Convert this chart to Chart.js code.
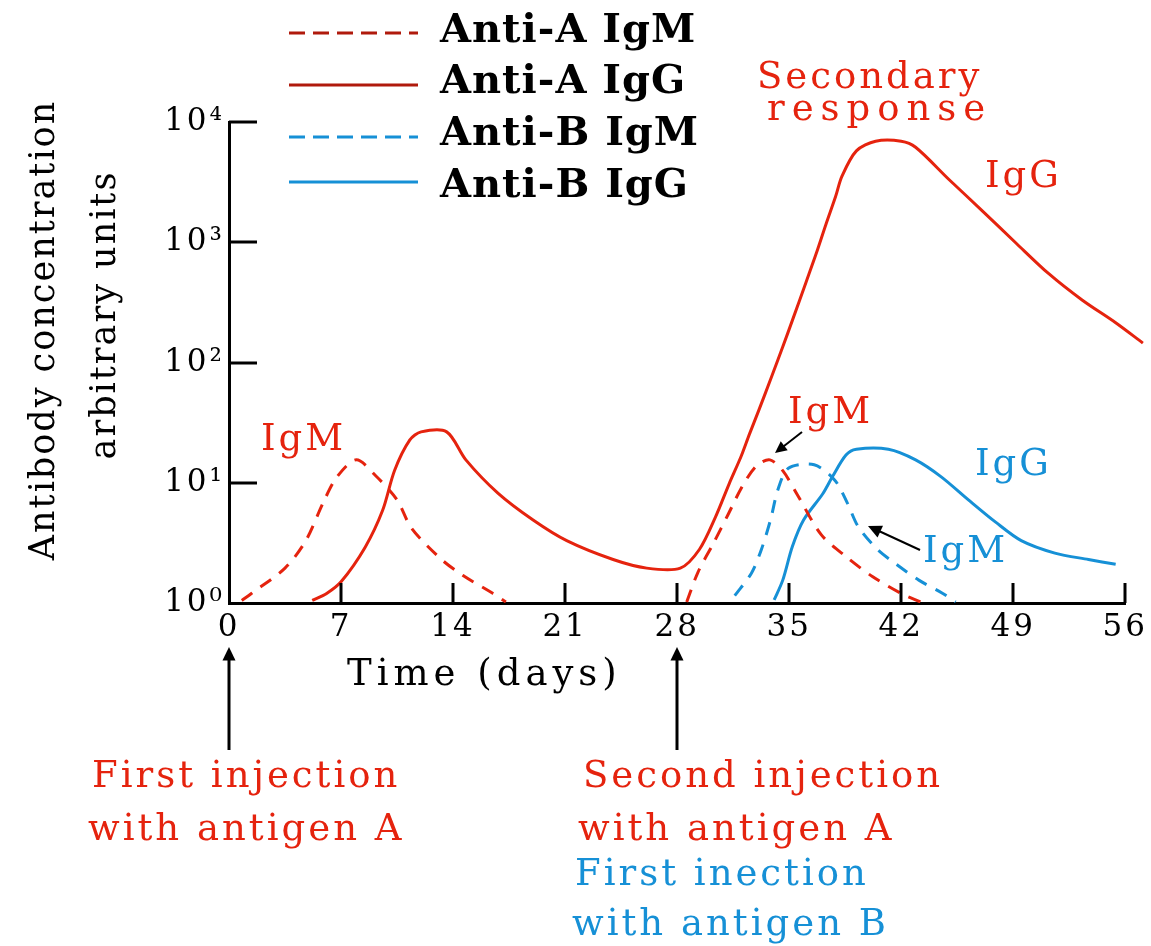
<!DOCTYPE html>
<html>
<head>
<meta charset="utf-8">
<script src="https://cdn.jsdelivr.net/npm/chart.js@4/dist/chart.umd.min.js"></script>
<style>
  html, body { margin: 0; padding: 0; background: #fff; }
  #wrap { width: 1151px; height: 946px; position: relative; }
</style>
</head>
<body>
<div id="wrap"><canvas id="chart"></canvas></div>
<script>
// ------------------------------------------------------------
// DATA
// ------------------------------------------------------------
const xTickValues = [0, 7, 14, 21, 28, 35, 42, 49, 56];
const yTickValues = [1, 10, 100, 1000, 10000];
const yTickLabels = ["10⁰", "10¹", "10²", "10³", "10⁴"];

const seriesNames = ["Anti-A IgM", "Anti-A IgG", "Anti-B IgM", "Anti-B IgG"];

// Anti-A IgM: primary hump, gap, secondary hump
const antiAIgMDays = [0.8, 1.4, 3.5, 4.8, 5.9, 6.75, 7.95, 9.15, 10.5, 11.4, 13.2, 14.6, 16.5, 17.3,
                      22, 28.6, 29.3, 30.3, 31.2, 32.1, 33.0, 33.8, 34.6, 35.5, 37.0, 38.6, 40.2, 42.0, 43.2];
const antiAIgMVals = [1.05, 1.2, 1.95, 3.3, 6.9, 11.2, 15.5, 11.5, 7.2, 4.2, 2.35, 1.7, 1.2, 1.02,
                      null, 1.02, 1.8, 3.2, 5.5, 9.5, 14, 15.5, 12.6, 8, 3.7, 2.4, 1.66, 1.2, 1.02];

const antiAIgGDays = [5.2, 6.1, 7.0, 8.5, 9.6, 10.35, 11.3, 12.0, 13.6, 14.8, 16.8, 19.0, 21.1, 24.0, 26.1, 28.2,
                      29.4, 30.4, 31.25, 32.0, 32.5, 33.1, 33.9, 34.6, 35.2, 36.06, 36.7, 37.3, 37.9, 38.3,
                      39.2, 40.4, 42.0, 42.9, 45.0, 47.0, 49.2, 51.2, 53.3, 55.4, 57.1];
const antiAIgGVals = [1.05, 1.2, 1.5, 2.9, 5.9, 12.7, 22.7, 26.5, 26.5, 15.5, 8.2, 4.9, 3.3, 2.3, 1.95, 1.95,
                      2.8, 5.2, 9.8, 16.6, 25, 40, 76, 135, 224, 468, 813, 1413, 2399, 3548,
                      5754, 6918, 6918, 6166, 3311, 1862, 977, 550, 331, 214, 145];

const antiBIgMDays = [31.6, 32.65, 33.27, 33.85, 34.29, 34.95, 36.56, 37.85, 38.63, 39.32, 40.5, 41.69, 43.1, 44.6, 45.4];
const antiBIgMVals = [1.15, 1.78, 2.8, 5.0, 8.7, 13.2, 14.1, 10.5, 6.8, 4.3, 2.8, 2.1, 1.55, 1.2, 1.02];

const antiBIgGDays = [34.06, 34.6, 35.2, 35.9, 37.1, 37.7, 38.55, 39.2, 41.2, 42.9, 44.5, 46.2, 47.9, 49.5, 51.6, 53.7, 55.4];
const antiBIgGVals = [1.06, 1.55, 2.95, 4.9, 8.1, 11.2, 17, 19, 19, 15.5, 11.2, 7.2, 4.7, 3.3, 2.6, 2.3, 2.1];

// ------------------------------------------------------------
// STYLE
// ------------------------------------------------------------
const RED = "#e5230e";
const DARK_RED = "#b01a0c";
const BLUE = "#1690d6";
const FONT = "'DejaVu Serif', serif";

const notes = [
  { text: "IgM", x: 261, y: 450, color: RED, size: 37, gap: 3 },
  { text: "Secondary", x: 757, y: 88, color: RED, size: 37, gap: 3 },
  { text: "response", x: 767, y: 120, color: RED, size: 37, gap: 7 },
  { text: "IgG", x: 985, y: 187, color: RED, size: 37, gap: 3 },
  { text: "IgM", x: 788, y: 423, color: RED, size: 37, gap: 3 },
  { text: "IgG", x: 975, y: 475, color: BLUE, size: 37, gap: 3 },
  { text: "IgM", x: 923, y: 562, color: BLUE, size: 37, gap: 3 },
  { text: "Time (days)", x: 347, y: 685, color: "#000", size: 37, gap: 5 },
  { text: "First injection", x: 92, y: 787, color: RED, size: 37, gap: 3 },
  { text: "with antigen A", x: 88, y: 840, color: RED, size: 37, gap: 3 },
  { text: "Second injection", x: 583, y: 787, color: RED, size: 37, gap: 3 },
  { text: "with antigen A", x: 578, y: 840, color: RED, size: 37, gap: 3 },
  { text: "First inection", x: 575, y: 885, color: BLUE, size: 37, gap: 3 },
  { text: "with antigen B", x: 572, y: 935, color: BLUE, size: 37, gap: 3 }
];

function zip(days, vals) {
  return days.map((d, i) => ({ x: d, y: vals[i] }));
}

function makeDataset(label, days, vals, color, dashed, legendColor) {
  return {
    label,
    data: zip(days, vals),
    borderColor: color,
    backgroundColor: legendColor || color,
    borderWidth: 3,
    borderDash: dashed ? [13, 10] : [],
    pointRadius: 0,
    tension: 0.3
  };
}

function arrow(ctx, x1, y1, x2, y2, head) {
  const a = Math.atan2(y2 - y1, x2 - x1);
  ctx.beginPath();
  ctx.moveTo(x1, y1);
  ctx.lineTo(x2 - Math.cos(a) * head * 0.6, y2 - Math.sin(a) * head * 0.6);
  ctx.stroke();
  ctx.beginPath();
  ctx.moveTo(x2, y2);
  ctx.lineTo(x2 - head * Math.cos(a - 0.45), y2 - head * Math.sin(a - 0.45));
  ctx.lineTo(x2 - head * Math.cos(a + 0.45), y2 - head * Math.sin(a + 0.45));
  ctx.closePath();
  ctx.fill();
}

// ------------------------------------------------------------
// PLUGINS
// ------------------------------------------------------------
const spacing = {
  id: "spacing",
  beforeDraw(chart) { chart.ctx.letterSpacing = "3px"; }
};

const inwardTicks = {
  id: "inwardTicks",
  afterDatasetsDraw(chart) {
    const { ctx, chartArea, scales: { x, y } } = chart;
    ctx.save();
    ctx.strokeStyle = "#000";
    ctx.lineWidth = 3;
    yTickValues.slice(1).forEach(v => {
      const py = Math.round(y.getPixelForValue(v));
      ctx.beginPath();
      ctx.moveTo(chartArea.left, py);
      ctx.lineTo(chartArea.left + 28, py);
      ctx.stroke();
    });
    xTickValues.slice(1).forEach(v => {
      const px = Math.round(x.getPixelForValue(v));
      ctx.beginPath();
      ctx.moveTo(px, chartArea.bottom);
      ctx.lineTo(px, chartArea.bottom - 20);
      ctx.stroke();
    });
    ctx.restore();
  }
};

const legendRows = { lineY: [33, 85, 137, 182], textY: [42, 93, 145, 197] };

const customLegend = {
  id: "customLegend",
  afterDraw(chart) {
    const ctx = chart.ctx;
    ctx.save();
    chart.data.datasets.forEach((ds, i) => {
      ctx.strokeStyle = ds.backgroundColor;
      ctx.lineWidth = 3;
      ctx.setLineDash(ds.borderDash.length ? [16, 8] : []);
      ctx.beginPath();
      ctx.moveTo(289, legendRows.lineY[i]);
      ctx.lineTo(418, legendRows.lineY[i]);
      ctx.stroke();
      ctx.setLineDash([]);
      ctx.letterSpacing = "1px";
      ctx.font = "bold 40px " + FONT;
      ctx.fillStyle = "#000";
      ctx.textAlign = "left";
      ctx.textBaseline = "alphabetic";
      ctx.fillText(ds.label, 440, legendRows.textY[i]);
    });
    ctx.restore();
  }
};

const annotations = {
  id: "annotations",
  afterDraw(chart) {
    const ctx = chart.ctx;
    const xs = chart.scales.x;
    ctx.save();
    ctx.textAlign = "left";
    ctx.textBaseline = "alphabetic";
    notes.forEach(n => {
      ctx.letterSpacing = n.gap + "px";
      ctx.font = n.size + "px " + FONT;
      ctx.fillStyle = n.color;
      ctx.fillText(n.text, n.x, n.y);
    });

    // y axis title, two rotated lines
    ctx.fillStyle = "#000";
    ctx.letterSpacing = "2px";
    ctx.font = "35px " + FONT;
    ctx.textAlign = "center";
    [["Antibody concentration", 54, 330], ["arbitrary units", 115, 315]].forEach(([t, bx, cy]) => {
      ctx.save();
      ctx.translate(bx, cy);
      ctx.rotate(-Math.PI / 2);
      ctx.fillText(t, 0, 0);
      ctx.restore();
    });

    // injection arrows under day 0 and day 28
    ctx.strokeStyle = "#000";
    ctx.fillStyle = "#000";
    ctx.lineWidth = 3;
    [0, 28].forEach(d => {
      const px = Math.round(xs.getPixelForValue(d));
      arrow(ctx, px, 750, px, 647, 15);
    });

    // pointers to the secondary IgM curves
    ctx.lineWidth = 2;
    arrow(ctx, 802, 432, 775, 453, 13);
    arrow(ctx, 920, 550, 868, 526, 15);
    ctx.restore();
  }
};

// ------------------------------------------------------------
// CHART
// ------------------------------------------------------------
const antiAIgG = makeDataset(seriesNames[1], antiAIgGDays, antiAIgGVals, RED, false, DARK_RED);
antiAIgG.clip = { left: 0, top: 0, right: 30, bottom: 0 };   // curve runs a little past day 56

new Chart(document.getElementById("chart"), {
  type: "line",
  data: {
    datasets: [
      makeDataset(seriesNames[0], antiAIgMDays, antiAIgMVals, RED, true, DARK_RED),
      antiAIgG,
      makeDataset(seriesNames[2], antiBIgMDays, antiBIgMVals, BLUE, true),
      makeDataset(seriesNames[3], antiBIgGDays, antiBIgGVals, BLUE, false)
    ]
  },
  options: {
    responsive: true,
    maintainAspectRatio: false,
    animation: false,
    layout: { padding: { left: 0, top: 122, right: 24, bottom: 0 } },
    elements: { line: { capBezierPoints: false } },
    plugins: {
      legend: { display: false },
      tooltip: { enabled: false }
    },
    scales: {
      x: {
        type: "linear",
        min: 0,
        max: 56,
        afterBuildTicks: s => { s.ticks = xTickValues.map(v => ({ value: v })); },
        afterFit: s => { s.height = 946 - 603; },
        ticks: {
          color: "#000",
          padding: 6,
          maxRotation: 0,
          font: { family: FONT, size: 31 },
          callback: v => String(v)
        },
        grid: { drawOnChartArea: false, drawTicks: false },
        border: { display: true, color: "#000", width: 3 }
      },
      y: {
        type: "logarithmic",
        min: 1,
        max: 10000,
        afterBuildTicks: s => { s.ticks = yTickValues.map(v => ({ value: v })); },
        afterFit: s => { s.width = 229; },
        ticks: {
          color: "#000",
          padding: 4,
          font: { family: FONT, size: 31 },
          callback: v => yTickLabels[yTickValues.indexOf(v)] ?? ""
        },
        grid: { drawOnChartArea: false, drawTicks: false },
        border: { display: true, color: "#000", width: 3 }
      }
    }
  },
  plugins: [spacing, inwardTicks, customLegend, annotations]
});
</script>
</body>
</html>
